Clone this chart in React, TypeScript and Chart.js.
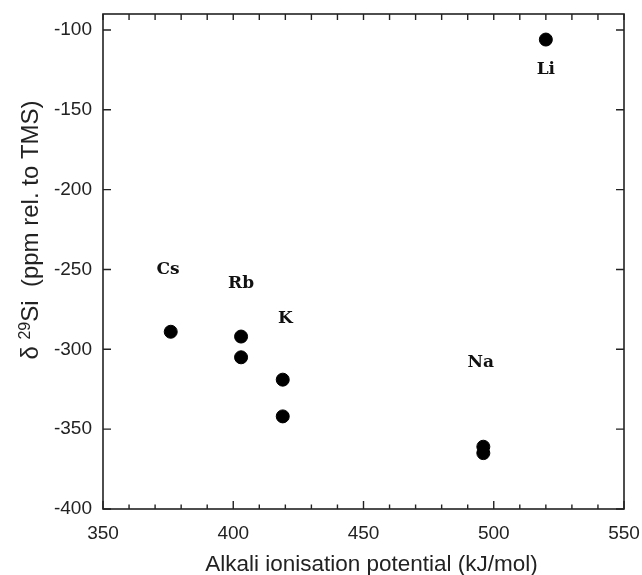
import React, { useEffect, useRef } from "react";
import { Chart, registerables } from "chart.js";

Chart.register(...registerables);

// Data
const ionisation = [376, 403, 403, 419, 419, 496, 496, 520];
const shift = [-289, -292, -305, -319, -342, -361, -365, -106];

const labelNames = ["Cs", "Rb", "K", "Na", "Li"];
const labelX = [375, 403, 420, 495, 520];
const labelY = [-250, -259, -281, -308, -125];

const xTicks = [350, 400, 450, 500, 550];
const xMinorTicks = [360, 370, 380, 390, 410, 420, 430, 440, 460, 470, 480, 490, 510, 520, 530, 540];
const yTicks = [-400, -350, -300, -250, -200, -150, -100];

const xTitle = "Alkali ionisation potential (kJ/mol)";
const yTitleParts = ["\u03b4 ", "29", "Si  (ppm rel. to TMS)"];

const X_MIN = 350;
const X_MAX = 550;
const Y_MIN = -400;
const Y_MAX = -90;

const AXIS_COLOR = "#222";
const TICK_FONT = "Liberation Sans, Arial, sans-serif";

const framePlugin = {
  id: "frame",
  afterDraw(chart: any) {
    const { ctx, chartArea: a, scales } = chart;
    const xs = scales.x;
    const ys = scales.y;
    ctx.save();
    ctx.strokeStyle = AXIS_COLOR;
    ctx.lineWidth = 1.6;
    ctx.strokeRect(a.left, a.top, a.right - a.left, a.bottom - a.top);
    ctx.lineWidth = 1.4;
    ctx.beginPath();
    xTicks.forEach((v) => {
      const px = xs.getPixelForValue(v);
      ctx.moveTo(px, a.bottom);
      ctx.lineTo(px, a.bottom - 8);
      ctx.moveTo(px, a.top);
      ctx.lineTo(px, a.top + 6);
    });
    xMinorTicks.forEach((v) => {
      const px = xs.getPixelForValue(v);
      ctx.moveTo(px, a.bottom);
      ctx.lineTo(px, a.bottom - 4.5);
      ctx.moveTo(px, a.top);
      ctx.lineTo(px, a.top + 6);
    });
    yTicks.forEach((v) => {
      const py = ys.getPixelForValue(v);
      ctx.moveTo(a.left, py);
      ctx.lineTo(a.left + 8, py);
      ctx.moveTo(a.right, py);
      ctx.lineTo(a.right - 8, py);
    });
    ctx.stroke();

    // point labels
    ctx.fillStyle = "#111";
    ctx.font = "bold 17px 'DejaVu Serif', 'Liberation Serif', serif";
    ctx.textAlign = "center";
    ctx.textBaseline = "middle";
    labelNames.forEach((n, i) => {
      ctx.fillText(n, xs.getPixelForValue(labelX[i]), ys.getPixelForValue(labelY[i]));
    });

    // x axis title
    ctx.fillStyle = "#222";
    ctx.font = "22.5px " + TICK_FONT;
    ctx.textAlign = "center";
    ctx.textBaseline = "alphabetic";
    ctx.fillText(xTitle, 371.5, 571);

    // y axis title with superscript
    const big = "24px " + TICK_FONT;
    const small = "16px " + TICK_FONT;
    const [p1, p2, p3] = yTitleParts;
    ctx.font = big;
    const w1 = ctx.measureText(p1).width;
    const w3 = ctx.measureText(p3).width;
    ctx.font = small;
    const w2 = ctx.measureText(p2).width;
    const total = w1 + w2 + w3;
    ctx.translate(38, 230);
    ctx.rotate(-Math.PI / 2);
    ctx.textAlign = "left";
    let x = -total / 2;
    ctx.font = big;
    ctx.fillText(p1, x, 0);
    x += w1;
    ctx.font = small;
    ctx.fillText(p2, x, -8);
    x += w2;
    ctx.font = big;
    ctx.fillText(p3, x, 0);
    ctx.restore();
  },
};

export default function App() {
  const ref = useRef<HTMLCanvasElement | null>(null);
  useEffect(() => {
    document.body.style.margin = "0";
    document.body.style.overflow = "hidden";
    if (!ref.current) return;
    const chart = new Chart(ref.current, {
      type: "scatter",
      data: {
        datasets: [
          {
            data: ionisation.map((x, i) => ({ x, y: shift[i] })),
            backgroundColor: "#000",
            borderColor: "#000",
            pointRadius: 6.5,
            pointHoverRadius: 6.5,
          },
        ],
      },
      options: {
        responsive: false,
        animation: false,
        layout: { padding: { top: 14, right: 18, left: 0, bottom: 0 } },
        plugins: { legend: { display: false }, tooltip: { enabled: false } },
        scales: {
          x: {
            type: "linear",
            min: X_MIN,
            max: X_MAX,
            afterBuildTicks: (s: any) => {
              s.ticks = xTicks.map((v) => ({ value: v }));
            },
            afterFit: (s: any) => {
              s.height = 66;
              s.paddingLeft = 0;
              s.paddingRight = 0;
            },
            grid: { display: false, drawTicks: false },
            border: { display: false },
            ticks: {
              padding: 13,
              color: "#222",
              font: { family: TICK_FONT, size: 19 },
              maxRotation: 0,
            },
          },
          y: {
            type: "linear",
            min: Y_MIN,
            max: Y_MAX,
            afterBuildTicks: (s: any) => {
              s.ticks = yTicks.map((v) => ({ value: v }));
            },
            afterFit: (s: any) => {
              s.width = 103;
              s.paddingTop = 0;
              s.paddingBottom = 0;
            },
            grid: { display: false, drawTicks: false },
            border: { display: false },
            ticks: {
              padding: 11,
              color: "#222",
              font: { family: TICK_FONT, size: 19 },
            },
          },
        },
      },
      plugins: [framePlugin],
    });
    return () => chart.destroy();
  }, []);
  return <canvas ref={ref} width={642} height={575} style={{ display: "block" }} />;
}
